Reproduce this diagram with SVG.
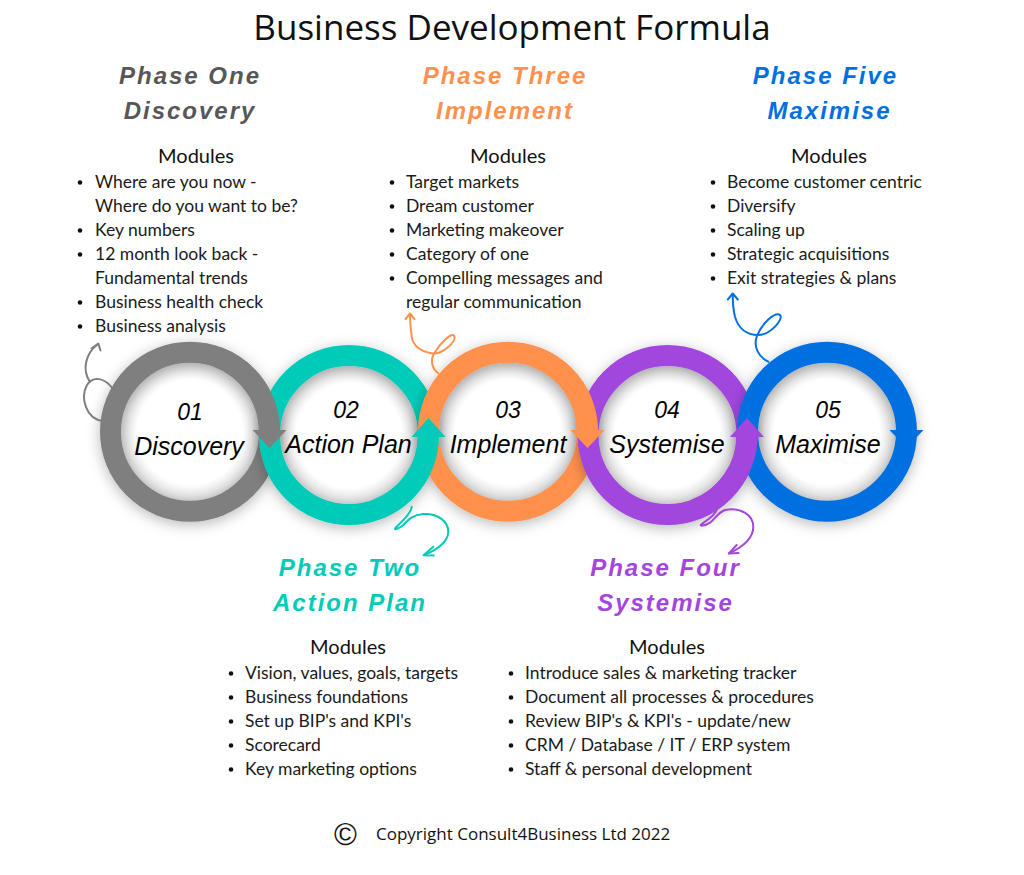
<svg xmlns="http://www.w3.org/2000/svg" width="1024" height="875" viewBox="0 0 1024 875">
<defs>
<filter id="sh" x="-30%" y="-30%" width="160%" height="160%">
<feDropShadow dx="0" dy="3" stdDeviation="7" flood-color="#000" flood-opacity="0.28"/>
</filter>
<radialGradient id="inner" cx="50%" cy="50%" r="50%">
<stop offset="0" stop-color="#ffffff"/>
<stop offset="0.75" stop-color="#ffffff"/>
<stop offset="1" stop-color="#dcdcdc"/>
</radialGradient>
<style>
.ring{fill:none;stroke-width:21;filter:url(#sh)}
.arc{fill:none;stroke-width:21}
.disc{fill:url(#inner)}
.h{font-family:"Liberation Sans",Arial,sans-serif;font-weight:bold;font-style:italic;font-size:24px;letter-spacing:2px;text-anchor:middle}
.mod{font-family:Lato,"Liberation Sans",sans-serif;font-size:20px;text-anchor:middle;fill:#111}
.li{font-family:Lato,"Liberation Sans",sans-serif;font-size:17.5px;fill:#1a1a1a}
.num{font-family:"Liberation Sans",Arial,sans-serif;font-style:italic;font-size:23px;text-anchor:middle;fill:#000}
.lab{font-family:"Liberation Sans",Arial,sans-serif;font-style:italic;font-size:25px;text-anchor:middle;fill:#000}
.curl{fill:none;stroke-width:2;stroke-linecap:round;stroke-linejoin:round}
.dot{fill:#111}
</style>
</defs>
<rect width="1024" height="875" fill="#ffffff"/>

<text x="512" y="40" font-family="'Open Sans','Liberation Sans',sans-serif" font-size="35" text-anchor="middle" fill="#111">Business Development Formula</text>

<!-- ring chain -->
<g id="rings">
<circle class="disc" cx="190" cy="431.7" r="70"/>
<circle class="disc" cx="349" cy="435" r="70"/>
<circle class="disc" cx="508" cy="431.7" r="70"/>
<circle class="disc" cx="667.5" cy="435" r="70"/>
<circle class="disc" cx="827" cy="431.7" r="70"/>

<circle class="ring" cx="190" cy="431.7" r="79.5" stroke="#7f7f7f"/>
<circle class="ring" cx="349" cy="435" r="79.5" stroke="#02cbb9"/>
<path class="arc" d="M 217.2 357 A 79.5 79.5 0 0 1 269.5 431.7" stroke="#7f7f7f"/>
<polygon points="252.5,430 286.5,430 269.5,448" fill="#7f7f7f"/>
<circle class="ring" cx="508" cy="431.7" r="79.5" stroke="#ff914d"/>
<path class="arc" d="M 428.5 435 A 79.5 79.5 0 0 1 376.2 509.7" stroke="#02cbb9"/>
<polygon points="411.5,437 445.5,437 428.5,418" fill="#02cbb9"/>
<circle class="ring" cx="667.5" cy="435" r="79.5" stroke="#a246de"/>
<path class="arc" d="M 535.2 357 A 79.5 79.5 0 0 1 587.5 431.7" stroke="#ff914d"/>
<polygon points="570.5,430 604.5,430 587.5,448" fill="#ff914d"/>
<circle class="ring" cx="827" cy="431.7" r="79.5" stroke="#0070e0"/>
<path class="arc" d="M 747 435 A 79.5 79.5 0 0 1 694.7 509.7" stroke="#a246de"/>
<polygon points="730,437 764,437 747,418" fill="#a246de"/>
<polygon points="889.5,430 923.5,430 906.5,448" fill="#0070e0"/>
</g>

<g id="step1">
<text class="num" x="190" y="420">01</text>
<text class="lab" x="189" y="455">Discovery</text>
</g>
<g id="step2">
<text class="num" x="346" y="418">02</text>
<text class="lab" x="348.5" y="452.5">Action Plan</text>
</g>
<g id="step3">
<text class="num" x="508" y="418">03</text>
<text class="lab" x="508" y="452.5">Implement</text>
</g>
<g id="step4">
<text class="num" x="667" y="418">04</text>
<text class="lab" x="667" y="452.5">Systemise</text>
</g>
<g id="step5">
<text class="num" x="828" y="418">05</text>
<text class="lab" x="828" y="452.5">Maximise</text>
</g>

<!-- curly connector arrows -->
<g id="connectors">
<path class="curl" stroke="#7f7f7f" d="M 103 421 C 86 419 80 398 87 385 C 93 375 105 378 113 389 M 90 382 C 82 370 85 354 98 344"/>
<polyline class="curl" stroke="#7f7f7f" points="91.5,348.5 98.3,343.5 100.5,350.5"/>

<path class="curl" stroke="#ff914d" d="M 438.3 373.3 C 431.7 368.3 430 360 434.3 353.3 C 440 343.3 451.7 331.7 454.3 336 C 456.7 341.7 441.7 355 431.7 353.3 C 421.7 351.7 413.3 346.7 411.7 336.7 C 410.7 328.3 410 320 410 314"/>
<polyline class="curl" stroke="#ff914d" points="405.5,319 410,313.5 414.5,319"/>

<path class="curl" stroke="#0070e0" d="M 768.3 361.7 C 758.3 356.7 753.3 346.7 756.7 336.7 C 761.7 323.3 775 311.7 780 315 C 784 319.3 770 335 758.3 335 C 746.7 335 738.3 328.3 735 316.7 C 733.3 310 732.7 301.7 732.7 294"/>
<polyline class="curl" stroke="#0070e0" points="727.8,299.5 732.7,293.5 737.8,299.5"/>

<path class="curl" stroke="#02cbb9" d="M 411.7 506.7 C 411.7 513.3 400 523.3 396 527.3 C 392.7 530.7 398.3 529.3 403.3 525 C 408.3 520 411.7 515 423.3 514 C 438.3 513.3 448.3 521.7 448.3 531.7 C 448.3 541.7 436.7 550 424 555"/>
<polyline class="curl" stroke="#02cbb9" points="433.3,546.7 423.5,555.2 433.8,555.5"/>

<path class="curl" stroke="#a246de" d="M 717.3 508.3 C 716 515 706.7 520.7 701.7 524 C 698.3 526.7 705 526 710 522.7 C 715 519.3 716.7 513.3 725 510 C 740 506.7 753.3 515 753.3 526.7 C 753.3 538.3 743.3 546.7 729 553.3"/>
<polyline class="curl" stroke="#a246de" points="736.7,545 728.8,553.4 738.5,553"/>
</g>

<g id="phase1">
<text class="h" x="190" y="83.5" fill="#575757">Phase One</text>
<text class="h" x="190" y="118.5" fill="#575757">Discovery</text>
<text class="mod" x="196" y="163">Modules</text>
<circle class="dot" cx="80" cy="182.5" r="2.3"/>
<text class="li" x="95" y="188">Where are you now -</text>
<text class="li" x="95" y="212">Where do you want to be?</text>
<circle class="dot" cx="80" cy="230.5" r="2.3"/>
<text class="li" x="95" y="236">Key numbers</text>
<circle class="dot" cx="80" cy="254.5" r="2.3"/>
<text class="li" x="95" y="260">12 month look back -</text>
<text class="li" x="95" y="284">Fundamental trends</text>
<circle class="dot" cx="80" cy="302.5" r="2.3"/>
<text class="li" x="95" y="308">Business health check</text>
<circle class="dot" cx="80" cy="326.5" r="2.3"/>
<text class="li" x="95" y="332">Business analysis</text>
</g>

<g id="phase3">
<text class="h" x="505" y="83.5" fill="#ff914d">Phase Three</text>
<text class="h" x="505" y="118.5" fill="#ff914d">Implement</text>
<text class="mod" x="508" y="163">Modules</text>
<circle class="dot" cx="392" cy="182.5" r="2.3"/>
<text class="li" x="406" y="188">Target markets</text>
<circle class="dot" cx="392" cy="206.5" r="2.3"/>
<text class="li" x="406" y="212">Dream customer</text>
<circle class="dot" cx="392" cy="230.5" r="2.3"/>
<text class="li" x="406" y="236">Marketing makeover</text>
<circle class="dot" cx="392" cy="254.5" r="2.3"/>
<text class="li" x="406" y="260">Category of one</text>
<circle class="dot" cx="392" cy="278.5" r="2.3"/>
<text class="li" x="406" y="284">Compelling messages and</text>
<text class="li" x="406" y="308">regular communication</text>
</g>

<g id="phase5">
<text class="h" x="825.5" y="83.5" fill="#0070e0">Phase Five</text>
<text class="h" x="829.5" y="118.5" fill="#0070e0">Maximise</text>
<text class="mod" x="829" y="163">Modules</text>
<circle class="dot" cx="713" cy="182.5" r="2.3"/>
<text class="li" x="727" y="188">Become customer centric</text>
<circle class="dot" cx="713" cy="206.5" r="2.3"/>
<text class="li" x="727" y="212">Diversify</text>
<circle class="dot" cx="713" cy="230.5" r="2.3"/>
<text class="li" x="727" y="236">Scaling up</text>
<circle class="dot" cx="713" cy="254.5" r="2.3"/>
<text class="li" x="727" y="260">Strategic acquisitions</text>
<circle class="dot" cx="713" cy="278.5" r="2.3"/>
<text class="li" x="727" y="284">Exit strategies &amp; plans</text>
</g>

<g id="phase2">
<text class="h" x="350" y="575.5" fill="#02cbb9">Phase Two</text>
<text class="h" x="350" y="610.5" fill="#02cbb9">Action Plan</text>
<text class="mod" x="348" y="654">Modules</text>
<circle class="dot" cx="231" cy="673.5" r="2.3"/>
<text class="li" x="245" y="679">Vision, values, goals, targets</text>
<circle class="dot" cx="231" cy="697.5" r="2.3"/>
<text class="li" x="245" y="703">Business foundations</text>
<circle class="dot" cx="231" cy="721.5" r="2.3"/>
<text class="li" x="245" y="727">Set up BIP's and KPI's</text>
<circle class="dot" cx="231" cy="745.5" r="2.3"/>
<text class="li" x="245" y="751">Scorecard</text>
<circle class="dot" cx="231" cy="769.5" r="2.3"/>
<text class="li" x="245" y="775">Key marketing options</text>
</g>

<g id="phase4">
<text class="h" x="665.5" y="575.5" fill="#a246de">Phase Four</text>
<text class="h" x="665.5" y="610.5" fill="#a246de">Systemise</text>
<text class="mod" x="667" y="654">Modules</text>
<circle class="dot" cx="511" cy="673.5" r="2.3"/>
<text class="li" x="525" y="679">Introduce sales &amp; marketing tracker</text>
<circle class="dot" cx="511" cy="697.5" r="2.3"/>
<text class="li" x="525" y="703">Document all processes &amp; procedures</text>
<circle class="dot" cx="511" cy="721.5" r="2.3"/>
<text class="li" x="525" y="727">Review BIP's &amp; KPI's - update/new</text>
<circle class="dot" cx="511" cy="745.5" r="2.3"/>
<text class="li" x="525" y="751">CRM / Database / IT / ERP system</text>
<circle class="dot" cx="511" cy="769.5" r="2.3"/>
<text class="li" x="525" y="775">Staff &amp; personal development</text>
</g>

<g id="copyright">
<text x="345.5" y="845" font-family="'Liberation Sans',Arial,sans-serif" font-size="31" text-anchor="middle" fill="#111">©</text>
<text x="376" y="840" font-family="'Open Sans','Liberation Sans',sans-serif" font-size="17" fill="#111">Copyright Consult4Business Ltd 2022</text>
</g>
</svg>
